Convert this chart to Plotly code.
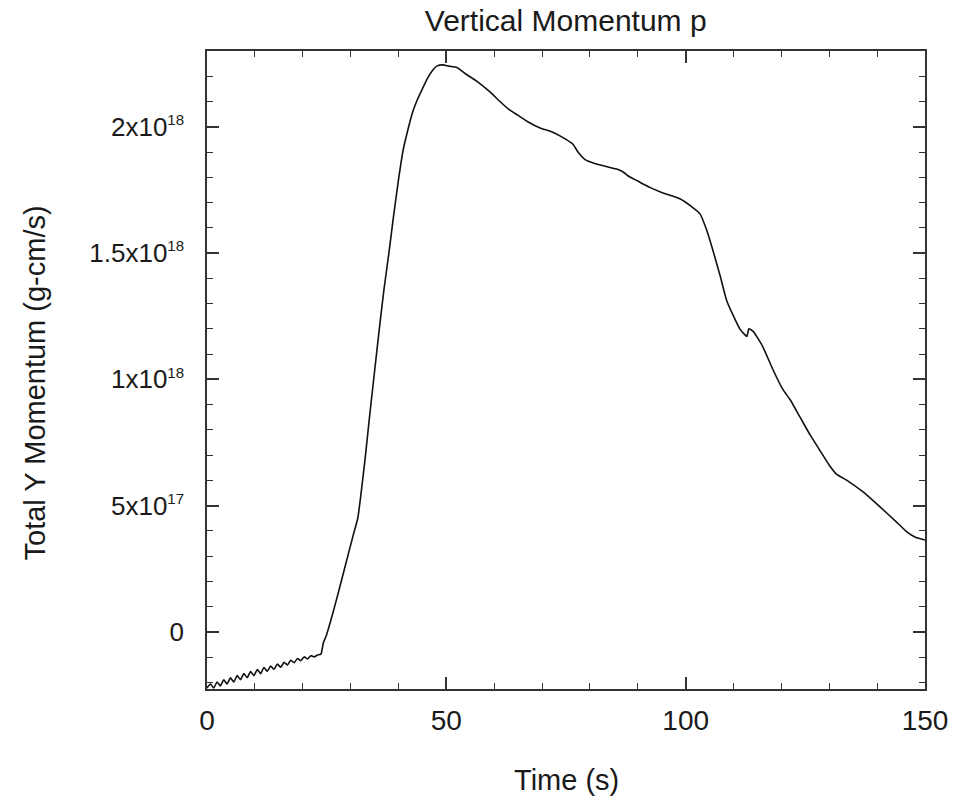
import plotly.graph_objects as go

# Time (s)
time_s = [0.0, 0.7, 1.4, 2.1, 2.8, 3.5, 4.2, 4.9, 5.6, 6.3, 7.0, 7.7, 8.4, 9.1, 9.8,
          10.5, 11.2, 11.9, 12.6, 13.3, 14.0, 14.7, 15.4, 16.1, 16.8, 17.5, 18.2,
          18.9, 19.6, 20.3, 21.0, 21.7, 22.4, 23.1, 23.8,
          24.3, 25.0, 26.3, 27.5, 29.2, 30.5, 31.5, 32.0, 33.0, 34.0, 35.0, 36.0,
          37.0, 38.0, 39.0, 40.0, 41.0, 42.0, 43.0, 44.0, 45.0, 46.0, 47.0, 48.0,
          49.3, 50.5, 52.2, 54.0, 56.4, 59.0, 61.2, 63.0, 65.0, 67.0, 69.6, 72.0,
          75.0, 76.5, 77.5, 79.0, 81.0, 83.0, 85.0, 86.0, 87.0, 88.0, 90.0, 92.5,
          95.0, 98.8, 101.5, 103.0, 104.4, 105.7, 107.2, 108.6, 110.0, 111.3,
          112.2, 112.8, 113.2, 114.1, 116.1, 118.2, 120.3, 121.8, 123.9, 126.0,
          128.0, 130.0, 131.5, 133.7, 137.0, 140.6, 144.0, 146.2, 148.0, 150.0]

# Total Y momentum, in units of 1e17 g-cm/s
momentum_e17 = [-2.22, -2.06, -2.22, -1.98, -2.14, -1.90, -2.06, -1.82, -1.98, -1.73,
                -1.89, -1.65, -1.81, -1.57, -1.73, -1.49, -1.65, -1.41, -1.56, -1.35,
                -1.48, -1.27, -1.40, -1.20, -1.31, -1.12, -1.22, -1.05, -1.14, -0.99,
                -1.07, -0.94, -0.99, -0.91, -0.88,
                -0.44, -0.10, 0.75, 1.6, 2.85, 3.8, 4.5, 5.2, 6.8, 8.6, 10.3, 12.0,
                13.6, 15.0, 16.5, 17.9, 19.1, 19.9, 20.6, 21.1, 21.5, 21.9, 22.2, 22.4,
                22.45, 22.4, 22.35, 22.1, 21.8, 21.4, 21.0, 20.7, 20.45, 20.2, 19.95, 19.8,
                19.5, 19.3, 19.0, 18.7, 18.55, 18.45, 18.35, 18.3, 18.2, 18.05, 17.85, 17.6,
                17.4, 17.15, 16.8, 16.55, 15.9, 15.1, 14.1, 13.1, 12.5, 12.0,
                11.8, 11.7, 12.0, 11.9, 11.3, 10.4, 9.6, 9.2, 8.5, 7.8,
                7.2, 6.6, 6.25, 6.0, 5.55, 4.95, 4.36, 3.96, 3.75, 3.64]

momentum = [v * 1e17 for v in momentum_e17]

y_tick_vals = [0, 5e17, 1e18, 1.5e18, 2e18]
y_tick_mantissa = ["0", "5x10", "1x10", "1.5x10", "2x10"]
y_tick_exponent = ["", "17", "18", "18", "18"]
x_tick_vals = [0, 50, 100, 150]

y_tick_text = [m if not e else f"{m}<sup><span style='font-size:15px'>{e}</span></sup>"
               for m, e in zip(y_tick_mantissa, y_tick_exponent)]

FONT = "Liberation Sans, Arial, sans-serif"
INK = "#1a1a1a"

fig = go.Figure()
fig.add_trace(go.Scatter(x=time_s, y=momentum, mode="lines",
                         line=dict(color="#111111", width=1.6,
                                   shape="spline", smoothing=0.5),
                         showlegend=False, hoverinfo="skip"))

fig.update_layout(
    width=954, height=802,
    margin=dict(l=207, r=29, t=51, b=113, autoexpand=False),
    paper_bgcolor="white", plot_bgcolor="white",
    font=dict(family=FONT, size=28, color=INK),
    title=dict(text="Vertical Momentum p", x=0.593, xanchor="center",
               y=0.975, yanchor="middle", font=dict(size=30)),
    annotations=[
        dict(text="Time (s)", xref="paper", yref="paper",
             x=0.5, y=-0.143, xanchor="center", yanchor="middle",
             showarrow=False, font=dict(size=29)),
        dict(text="Total Y Momentum (g-cm/s)", xref="paper", yref="paper",
             x=-0.24, y=0.48, xanchor="center", yanchor="middle",
             textangle=-90, showarrow=False, font=dict(size=29)),
    ],
)

fig.update_xaxes(
    range=[0, 150], tickvals=x_tick_vals, automargin=False,
    showgrid=False, zeroline=False,
    showline=True, linecolor="#333333", linewidth=1.5, mirror="allticks",
    ticks="inside", ticklen=12, tickwidth=1.5, tickcolor="#333333",
    minor=dict(dtick=10, ticks="inside", ticklen=6, tickwidth=1.2,
               tickcolor="#333333", showgrid=False),
    tickfont=dict(size=28), ticklabelstandoff=6,
)
fig.update_yaxes(
    range=[-2.26e17, 2.3e18], tickvals=y_tick_vals, ticktext=y_tick_text,
    automargin=False,
    showgrid=False, zeroline=False,
    showline=True, linecolor="#333333", linewidth=1.5, mirror="allticks",
    ticks="inside", ticklen=12, tickwidth=1.5, tickcolor="#333333",
    minor=dict(dtick=1e17, ticks="inside", ticklen=6, tickwidth=1.2,
               tickcolor="#333333", showgrid=False),
    tickfont=dict(size=26), ticklabelstandoff=16,
)

fig.write_html("out.html")
